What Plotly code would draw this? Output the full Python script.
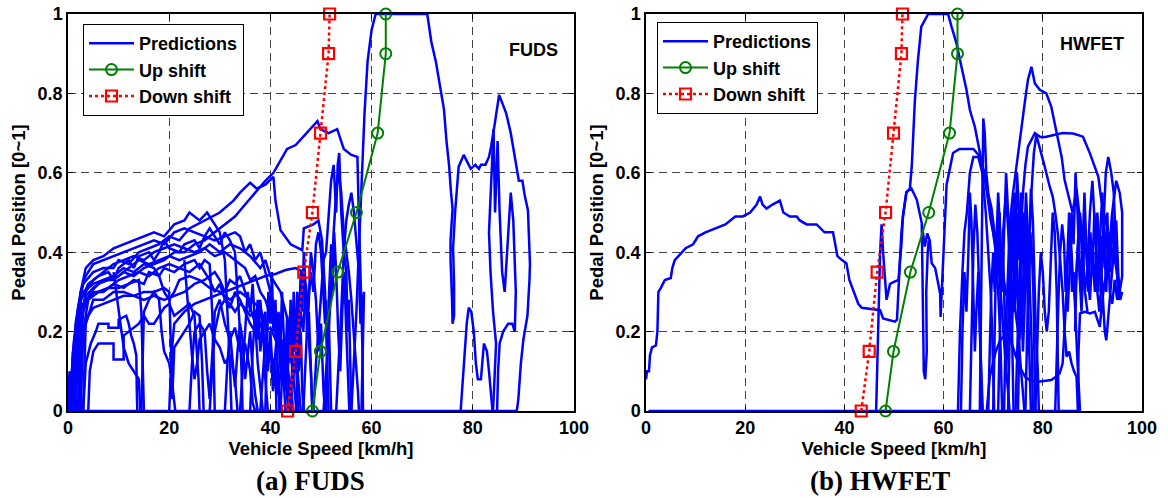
import plotly.graph_objects as go

# ---------------- shift schedule (same for both cycles) ----------------
up_speed = [48.3, 49.9, 53.3, 57.0, 61.2, 62.8, 62.8]
up_pedal = [0.0, 0.15, 0.35, 0.5, 0.7, 0.9, 1.0]
down_speed = [43.4, 45.0, 46.6, 48.3, 49.9, 51.5, 51.7]
down_pedal = [0.0, 0.15, 0.35, 0.5, 0.7, 0.9, 1.0]

# ---------------- FUDS predictions (speed km/h, pedal 0~1) ----------------
fuds_baseline = [[(0, 0), (88.7, 0)]]

fuds_low_speed = [
    [(0.3,0),(0.8,0.1),(1.5,0.22),(2.5,0.3),(3.5,0.36),(5,0.38),(7,0.39),(9,0.41),(11,0.42),(13,0.43),(15,0.44),(17,0.45),(19,0.44),(21,0.47),(23,0.48),(24,0.50),(26,0.48),(27.5,0.50),(29,0.47),(30,0.45),(31,0.38),(31.5,0.25),(32,0.12),(32.3,0)],
    [(0.5,0),(1,0.15),(2,0.26),(3,0.32),(5,0.35),(7,0.36),(9,0.36),(10,0.38),(12,0.37),(14,0.40),(16,0.41),(18,0.42),(20,0.44),(22,0.43),(24,0.46),(27,0.48),(30,0.50),(32.7,0.53),(34,0.55),(36,0.575),(37.3,0.56),(39,0.57),(40.6,0.59),(41,0.53),(42,0.455),(44,0.42),(46.3,0.405),(46.6,0.46),(48.5,0.47),(49.5,0.48),(50.2,0.43),(50.8,0.3),(51.2,0.15),(51.5,0)],
    [(1,0),(1.5,0.12),(2.5,0.24),(3.5,0.29),(5,0.31),(7,0.33),(9,0.33),(11,0.35),(13,0.34),(15,0.36),(17,0.37),(19,0.38),(21,0.40),(23,0.40),(25,0.42),(27,0.43),(29,0.45),(31,0.47),(33,0.49),(35,0.52),(37,0.55),(39,0.58),(40.6,0.60),(42,0.63),(43.3,0.66),(45,0.67),(46.5,0.69),(48,0.71),(49.3,0.73),(49.9,0.71),(51.5,0.70),(53.2,0.71),(53.9,0.685),(54.5,0.66),(56,0.645),(57.2,0.64),(57.4,0.53),(57.6,0.41),(57.9,0.3),(58.2,0.15),(58.3,0)],
    [(1.5,0),(2,0.15),(2.8,0.25),(3.5,0.28),(5,0.3),(7,0.3),(9,0.32),(11,0.31),(13,0.33),(15,0.32),(16,0.35),(18,0.34),(19,0.36),(21,0.35),(23,0.37),(25,0.38),(26,0.36),(27,0.38),(28,0.37),(28.5,0.25),(28.8,0.12),(29,0)],
    [(0.2,0),(0.6,0.08),(1.2,0.18),(2,0.23),(3,0.27),(4.5,0.29),(6,0.30),(8,0.31),(10,0.31),(12,0.32),(14,0.33),(14.5,0.25),(14.8,0.1),(15,0)],
    [(2,0),(2.5,0.1),(3,0.2),(4,0.24),(5,0.26),(7,0.27),(9,0.28),(11,0.29),(13,0.29),(15,0.30),(17,0.30),(19,0.31),(20,0.30),(20.3,0.2),(20.5,0.1),(20.6,0.03),(20.8,0.08),(21,0.16),(22,0.18),(23,0.2),(24,0.22),(25,0.25),(26,0.24),(26.5,0.12),(26.8,0)],
    [(3,0),(3.5,0.12),(4.5,0.17),(5.5,0.20),(6,0.22),(8,0.22),(8,0.21),(10,0.21),(10,0.23),(11.5,0.24),(12,0.22),(12.5,0.19),(13,0.17),(13.5,0.14),(13.6,0.05),(13.7,0)],
    [(4,0),(4.3,0.1),(5,0.15),(6,0.17),(8,0.17),(9,0.17),(9,0.13),(11,0.13),(11,0.19),(12,0.2),(14,0.22),(15,0.24),(16,0.22),(17,0.22),(18,0.24),(19,0.26),(20,0.27),(21,0.24),(22,0.25),(24,0.27),(25,0.24),(25.5,0.15),(25.8,0.08),(26,0)],
    [(1,0),(1.8,0.2),(2.5,0.3),(3.5,0.34),(5,0.37),(7,0.38),(9,0.39),(11,0.40),(13,0.41),(15,0.42),(17,0.43),(19,0.42),(21,0.45),(23,0.46),(25,0.45),(27,0.44),(29,0.43),(31,0.44),(33,0.45),(34,0.44),(35,0.40),(36,0.42),(37,0.38),(38,0.40),(39,0.35),(40,0.30),(41,0.25),(42,0.2),(42.5,0.1),(43,0)],
    [(2,0),(2.5,0.2),(3.5,0.3),(5,0.33),(7,0.35),(9,0.37),(11,0.38),(13,0.39),(15,0.38),(17,0.40),(19,0.41),(21,0.42),(23,0.41),(25,0.40),(27,0.41),(29,0.39),(31,0.40),(33,0.38),(35,0.36),(36,0.33),(37,0.34),(38,0.30),(39,0.28),(40,0.24),(41,0.2),(41.5,0.1),(41.8,0)],
    [(2.5,0),(3,0.2),(4,0.28),(6,0.3),(8,0.31),(10,0.33),(12,0.34),(14,0.35),(16,0.34),(18,0.36),(20,0.37),(22,0.36),(24,0.35),(26,0.37),(28,0.33),(29,0.30),(30,0.32),(31,0.28),(32,0.26),(33,0.3),(34,0.28),(35,0.25),(36,0.22),(37,0.2),(38,0.22),(39,0.18),(40,0.15),(41,0.1),(41.5,0.04),(42,0.1),(43,0.12),(44,0.07),(44.5,0)],
    [(3,0),(3.5,0.22),(5,0.28),(7,0.28),(9,0.30),(11,0.30),(13,0.29),(15,0.28),(17,0.29),(19,0.28),(21,0.29),(23,0.30),(25,0.32),(27,0.33),(29,0.35),(30,0.33),(31,0.3),(32,0.33),(33,0.32),(34,0.34),(35,0.3),(36,0.26),(37,0.22),(37.5,0.12),(38,0.05),(38.5,0)],
    [(2,0),(2.4,0.15),(3,0.25),(4.5,0.3),(6,0.32),(8,0.33),(10,0.34),(12,0.36),(14,0.38),(16,0.37),(18,0.38),(20,0.39),(22,0.38),(24,0.39),(26,0.4),(28,0.42),(30,0.4),(32,0.42),(34,0.41),(36,0.39),(38,0.36),(39,0.38),(40,0.34),(42,0.3),(43,0.25),(44,0.2),(45,0.15),(45.5,0.08),(46,0)],
    [(20,0),(20.5,0.15),(21,0.22),(23,0.25),(25,0.27),(27,0.28),(29,0.29),(31,0.30),(33,0.31),(35,0.32),(37,0.33),(39,0.34),(41,0.345),(43,0.355),(45,0.36),(46.5,0.35),(47,0.3),(47.5,0.2),(48,0.1),(48.3,0)],
    [(28,0),(28.5,0.1),(29,0.2),(30,0.26),(31,0.28),(32,0.27),(33,0.25),(34,0.27),(35,0.26),(36,0.24),(37,0.25),(38,0.22),(39,0.2),(40,0.21),(41,0.18),(42,0.16),(43,0.13),(44,0.14),(44.5,0.09),(45,0.02),(45.5,0)],
    [(24,0),(24.5,0.12),(25,0.2),(26,0.22),(27,0.2),(27.5,0.1),(28,0.03),(28.5,0.15),(29,0.25),(30,0.28),(31,0.22),(32,0.18),(33,0.21),(34,0.15),(35,0.17),(36,0.1),(36.5,0.02),(37,0)],
    [(0,0),(0.3,0.1),(0.6,0.05),(1,0.15),(1.3,0.08),(1.5,0)],
    [(1.2,0),(1.8,0.18),(2.6,0.28),(4,0.32),(6,0.34),(8,0.35),(9,0.33),(10,0.36),(12,0.38),(13,0.36),(14,0.39),(16,0.4),(17,0.38),(18,0.4),(19,0.43),(20,0.41),(22,0.4),(23,0.42),(25,0.43),(26,0.41),(27,0.44),(28,0.46),(29,0.44),(30,0.42),(31,0.45),(32,0.43),(33,0.4),(33.5,0.3),(34,0.2),(34.3,0.1),(34.5,0)],
    [(0.8,0),(1.5,0.2),(2.2,0.27),(3,0.3),(5,0.32),(7,0.33),(9,0.34),(11,0.36),(13,0.35),(15,0.37),(17,0.36),(18,0.34),(19,0.3),(20,0.28),(21,0.3),(22,0.33),(24,0.34),(26,0.33),(28,0.31),(30,0.3),(32,0.28),(34,0.3),(36,0.28),(38,0.26),(39,0.22),(40,0.24),(41,0.2),(42,0.16),(43,0.1),(43.5,0)],
    [(14.5,0),(14.7,0.12),(15,0.25),(16,0.28),(17,0.3),(18,0.28),(18.5,0.2),(19,0.15),(20,0.12),(20.5,0.08),(21,0.02),(21.2,0)],
    [(9,0.35),(9.5,0.3),(10,0.25),(10.5,0.2),(11,0.16),(12,0.12),(13,0.1),(14,0.08),(14.3,0)],
    [(23,0.38),(23.5,0.3),(24,0.2),(24.5,0.14),(25,0.08),(25.5,0.12),(26,0.18),(27,0.2),(28,0.22),(29,0.18),(30,0.16),(31,0.12),(32,0.14),(33,0.08),(33.5,0)],
]

fuds_mid_speed = [
    [(38,0),(38.5,0.1),(39,0.18),(39.5,0.12),(40,0.2),(40.5,0.08),(41,0.15),(41.5,0.22),(42,0.1),(42.5,0.18),(43,0.05),(43.5,0.12),(44,0.2),(44.5,0.08),(45,0.14),(45.5,0.0)],
    [(36,0),(36.5,0.15),(37,0.25),(37.5,0.18),(38,0.28),(38.5,0.2),(39,0.25),(39.5,0.1),(40,0.18),(40.5,0.05),(41,0.12),(41.2,0)],
    [(31,0),(31.5,0.12),(32,0.2),(32.5,0.12),(33,0.06),(33.5,0.15),(34,0.22),(34.5,0.18),(35,0.08),(35.5,0.14),(36,0.2),(36.5,0.1),(37,0.04),(37.5,0)],
    [(42,0),(42.3,0.08),(42.6,0.18),(43,0.1),(43.3,0.24),(43.6,0.12),(44,0.28),(44.3,0.15),(44.6,0.3),(45,0.2),(45.3,0.26),(45.6,0.1),(46,0.2),(46.3,0.05),(46.6,0)],
    [(46.5,0),(47,0.15),(47.5,0.28),(48,0.35),(48.5,0.3),(49,0.42),(49.5,0.45),(50,0.4),(50.5,0.3),(50.8,0.22),(51,0.28),(51.3,0.15),(51.5,0.25),(51.8,0.08),(52,0)],
    [(48.5,0),(49,0.12),(49.5,0.2),(50,0.3),(50.5,0.38),(51,0.4),(51.5,0.5),(52,0.58),(52.5,0.62),(53,0.5),(53.3,0.62),(53.6,0.65),(54,0.5),(54.5,0.4),(55,0.35),(55.3,0.2),(55.5,0.28),(55.8,0.1),(56,0)],
    [(50.5,0),(51,0.1),(51.5,0.2),(52,0.3),(52.5,0.45),(53,0.55),(53.5,0.6),(54,0.55),(54.5,0.45),(55,0.4),(55.5,0.35),(56,0.28),(56.5,0.2),(57,0.12),(57.3,0.05),(57.5,0)],
    [(53,0),(53.5,0.12),(54,0.25),(54.5,0.4),(55,0.48),(55.5,0.52),(56,0.55),(56.5,0.5),(57,0.42),(57.5,0.35),(57.8,0.22),(58.2,0.28),(58.5,0.3),(58.3,0.15),(58.1,0.05),(58,0)],
    [(39,0),(39.3,0.15),(39.6,0.3),(40,0.22),(40.3,0.35),(40.6,0.2),(41,0.28),(41.3,0.12),(41.6,0.25),(42,0.18),(42.3,0.3),(42.6,0.2),(43,0.12),(43.3,0.2),(43.6,0.06),(44,0)],
    [(44,0),(44.3,0.1),(44.6,0.22),(45,0.15),(45.3,0.3),(45.6,0.2),(46,0.35),(46.3,0.25),(46.6,0.4),(47,0.3),(47.3,0.18),(47.6,0.25),(48,0.1),(48.3,0)],
    [(45,0),(45.5,0.12),(46,0.25),(46.5,0.2),(47,0.32),(47.5,0.25),(48,0.4),(48.5,0.35),(49,0.28),(49.5,0.15),(50,0.22),(50.5,0.05),(50.8,0)],
    [(51,0),(51.3,0.15),(51.6,0.3),(52,0.42),(52.3,0.3),(52.6,0.45),(53,0.35),(53.4,0.2),(53.8,0.1),(54.2,0.25),(54.6,0.35),(55,0.2),(55.4,0.05),(55.6,0)],
    [(34,0),(34.5,0.1),(35,0.18),(35.5,0.3),(36,0.25),(36.5,0.32),(37,0.2),(37.5,0.28),(38,0.15),(38.5,0.22),(39,0.08),(39.5,0)],
]

fuds_high_speed = [
    [(56,0),(56.5,0.12),(57,0.25),(57.4,0.38),(57.8,0.5),(58.2,0.62),(58.6,0.75),(59.2,0.88),(60,0.96),(60.8,1.0),(71,1.0),(71.8,0.93),(72.7,0.88),(73.5,0.82),(74.3,0.76),(74.8,0.68),(75.3,0.62),(75.7,0.55),(76,0.51),(75.6,0.43),(75.6,0.38),(75.9,0.28),(76,0.22),(76.3,0.24),(76.3,0.32),(76.1,0.41),(76.5,0.5),(77.2,0.615),(78.2,0.645),(78.8,0.63),(79.6,0.61),(80.5,0.62),(81.2,0.61),(81.6,0.62),(82.5,0.62),(83.2,0.64),(83.6,0.665),(84.3,0.72),(85.2,0.796),(85.7,0.78),(86.6,0.75),(87.5,0.70),(88.2,0.65),(89.1,0.58),(89.8,0.58),(90.3,0.54),(90.9,0.506),(91.1,0.43),(91.3,0.37),(91.2,0.33),(90.8,0.24),(90,0.18),(89.5,0.12),(89,0.03),(88.7,0)],
    [(77.6,0),(78.2,0.12),(78.8,0.22),(79.2,0.26),(79.7,0.25),(80.2,0.2),(80.6,0.12),(81,0.08),(81.6,0.08),(82.2,0.17),(82.8,0.15),(83.2,0.1),(83.6,0.04),(83.9,0)],
    [(84,0),(84.3,0.1),(84.6,0.17),(84,0.25),(83.5,0.35),(83.2,0.45),(83.6,0.55),(84.1,0.71),(84.4,0.5),(84.9,0.68),(85.3,0.5),(85.8,0.35),(86.3,0.3),(87,0.45),(87.5,0.55),(88,0.48),(88.5,0.3),(88.3,0.2),(87.8,0.22),(87,0.22),(86,0.2),(85.3,0.17),(85,0.1),(84.8,0)],
]

# ---------------- HWFET predictions ----------------
hwfet_baseline = [[(0.5, 0), (87.1, 0)]]

hwfet_low_speed = [
    [(0,0.08),(0.2,0.1),(0.6,0.1),(0.8,0.14),(1.2,0.16),(2,0.165),(2.3,0.2),(2.5,0.3),(3,0.31),(3.8,0.33),(5,0.335),(5.3,0.36),(5.8,0.38),(6.5,0.39),(8,0.41),(9.5,0.42),(10.5,0.44),(12,0.45),(14,0.46),(16,0.47),(18,0.49),(19.5,0.49),(21,0.5),(22.3,0.52),(23,0.54),(23.5,0.52),(24.3,0.51),(25.5,0.52),(27,0.53),(27.7,0.5),(29,0.49),(30.4,0.49),(31,0.48),(32.4,0.47),(34.4,0.47),(35.3,0.46),(36,0.45),(37.7,0.45),(38.2,0.42),(38.6,0.39),(39.5,0.38),(40.4,0.372),(41,0.33),(41.8,0.305),(42.8,0.27),(43.5,0.26),(44.1,0.259),(45.5,0.255),(47.2,0.254),(47.8,0.233),(49,0.228),(50.2,0.225),(50.6,0.23),(50.9,0.32),(51.2,0.38),(51.5,0.45),(51.8,0.49),(52.5,0.552),(53.5,0.561),(54.6,0.532),(55.6,0.473),(56.2,0.414),(56.7,0.447),(57.2,0.43),(57.6,0.372),(58.3,0.36),(59.3,0.296),(59.4,0.237),(59.6,0.3),(60.2,0.45),(60.6,0.57),(61.9,0.65),(63.2,0.66),(66,0.66),(67.4,0.64),(68.2,0.6),(68.8,0.54),(69.5,0.48),(70.3,0.43),(71,0.4),(71.8,0.36),(72.5,0.3),(73,0.28),(73.5,0.32),(74,0.3),(74.5,0.25),(75,0.2),(75.5,0.12),(76,0.05),(76.3,0)],
    [(46.4,0),(46.8,0.2),(47.2,0.4),(47.5,0.47),(47.8,0.4),(48.5,0.28),(49.2,0.32),(50,0.325),(50.9,0.33),(51.5,0.42),(51.8,0.49),(52.5,0.55),(53.2,0.56),(53.6,0.62),(54,0.72),(54.2,0.78),(54.8,0.88),(55.5,0.968),(56.9,1.0),(60.9,1.0),(61.6,0.968),(62.6,0.926),(63.6,0.867),(64.6,0.81),(65.3,0.758),(66.3,0.716),(67.6,0.632),(68.6,0.565),(69.6,0.515),(70.3,0.448),(71,0.38),(71.5,0.3),(72,0.2),(72.5,0.12),(73,0.05),(73.3,0)],
    [(55.6,0.47),(55.8,0.35),(55.9,0.2),(56,0.1),(56.3,0.08),(56.6,0.15),(56.5,0.3),(56.8,0.4),(57,0.43)],
    [(62.9,0),(63.3,0.2),(63.8,0.35),(64.2,0.45),(64.7,0.5),(65.3,0.6),(66,0.64),(67,0.64),(67.8,0.6),(68.5,0.5),(69,0.4),(69.5,0.3),(69.8,0.2),(70,0.1),(70.2,0)],
    [(67.3,0),(67.5,0.2),(67.7,0.4),(67.9,0.6),(68,0.737),(68.3,0.7),(68.6,0.6),(69,0.55),(69.5,0.5),(70,0.45),(70.5,0.4),(71,0.3),(71.4,0.2),(71.6,0.1),(71.8,0)],
    [(63.5,0),(63.8,0.2),(64.2,0.35),(64.6,0.25),(65,0.4),(65.3,0.55),(65.6,0.48),(66,0.3),(66.3,0.15),(66.6,0.25),(67,0.35),(67.3,0.2),(67.6,0.08),(67.9,0)],
    [(65.3,0),(65.6,0.2),(66,0.4),(66.4,0.52),(66.8,0.45),(67.2,0.3),(67.5,0.12),(67.7,0)],
]

hwfet_high_speed = [
    [(69,0),(69.3,0.15),(69.6,0.3),(70,0.4),(70.3,0.3),(70.6,0.45),(71,0.35),(71.3,0.5),(71.6,0.3),(72,0.4),(72.3,0.2),(72.6,0.1),(73,0.2),(73.3,0.4),(73.6,0.5),(74,0.35),(74.3,0.45),(74.6,0.3),(75,0.5),(75.3,0.38),(75.6,0.55),(76,0.4),(76.3,0.3),(76.6,0.45),(77,0.25),(77.3,0.1),(77.6,0)],
    [(71,0),(71.3,0.2),(71.6,0.35),(72,0.45),(72.4,0.52),(72.8,0.5),(73.2,0.42),(73.5,0.3),(73.8,0.42),(74.2,0.55),(74.5,0.42),(74.8,0.6),(75.2,0.5),(75.5,0.35),(75.8,0.2),(76.1,0.35),(76.4,0.5),(76.8,0.4),(77.2,0.3),(77.5,0.45),(77.8,0.4),(78.1,0.3),(78.3,0.15),(78.5,0)],
    [(73,0),(73.2,0.15),(73.5,0.3),(73.8,0.2),(74.1,0.35),(74.4,0.25),(74.7,0.4),(75,0.28),(75.3,0.18),(75.6,0.3),(76,0.15),(76.3,0.25),(76.6,0.38),(77,0.3),(77.3,0.45),(77.6,0.56),(78,0.48),(78.3,0.35),(78.6,0.2),(79,0.1),(79.2,0)],
    [(72.2,0),(72.5,0.2),(73,0.35),(73.3,0.464),(74,0.55),(74.8,0.63),(75.7,0.716),(76.4,0.78),(77,0.834),(77.7,0.867),(78.4,0.825),(79.4,0.809),(80.7,0.80),(81.7,0.767),(82.8,0.70),(83.8,0.64),(84.4,0.582),(85.1,0.548),(86,0.5),(86.8,0.56),(87.5,0.48),(88,0.38),(88.5,0.3),(89,0.36),(89.5,0.5),(90,0.58),(90.5,0.45),(91,0.35),(91.5,0.42),(92,0.3),(92.5,0.2),(92.8,0.178),(93.3,0.25),(93.8,0.32),(94.3,0.4),(94.8,0.36),(95.5,0.3),(96,0.34),(96,0.5),(95.5,0.55),(94.8,0.58),(94,0.5),(93.5,0.42),(92.8,0.35),(92,0.28),(91.5,0.212),(90.5,0.25),(89.5,0.246),(88.5,0.25),(87.5,0.246),(87.2,0.15),(87.1,0.05),(87.1,0)],
    [(74.5,0),(74.8,0.15),(75.2,0.3),(75.6,0.45),(76,0.55),(76.5,0.62),(77,0.666),(78.4,0.70),(79.5,0.69),(80.5,0.69),(82.1,0.695),(84,0.70),(86.1,0.699),(88.1,0.691),(89.5,0.649),(90.5,0.615),(91.2,0.59),(91.8,0.531),(92.8,0.47),(93.8,0.414),(94.9,0.364),(95.5,0.296),(95.2,0.28),(95,0.35),(94.6,0.45),(94.3,0.55),(93.8,0.6),(93.2,0.64),(92.7,0.6),(92.3,0.5),(92,0.4),(91.7,0.3),(91.4,0.25),(91,0.3),(90.6,0.4)],
    [(76.5,0),(76.8,0.2),(77.2,0.4),(77.7,0.55),(78.2,0.65),(78.7,0.695),(79.5,0.66),(80.4,0.615),(81.4,0.565),(82,0.54),(82.5,0.5),(83,0.45),(83.5,0.38),(84,0.3),(84.4,0.2),(84.8,0.137),(85.3,0.15),(85.8,0.12),(86.3,0.1),(86.8,0.086),(87.1,0)],
    [(68.7,0),(69,0.05),(69.3,0.086),(70.5,0.15),(71.5,0.18),(72.7,0.195),(73.5,0.18),(74.5,0.14),(75.4,0.11),(76.5,0.085),(77.4,0.078),(79.1,0.074),(80.5,0.076),(81.7,0.078),(82.5,0.085),(83.4,0.095),(84,0.12),(84.4,0.2),(84.8,0.3),(85,0.4),(85.3,0.5),(85.6,0.42),(85.9,0.3),(86.2,0.35),(86.5,0.25),(86.9,0.15),(87.3,0.05),(87.5,0)],
    [(82.5,0),(82.8,0.15),(83.2,0.3),(83.5,0.4),(83.9,0.47),(84.3,0.42),(84.6,0.3),(85,0.38),(85.5,0.47),(86,0.35),(86.5,0.28),(87,0.4),(87.5,0.5),(88,0.42),(88.5,0.3),(89,0.25)],
    [(86.5,0.2),(86.8,0.35),(87.2,0.45),(87.6,0.3),(88,0.4),(88.4,0.55),(88.8,0.4),(89.2,0.3),(89.6,0.45),(90,0.35),(90.4,0.5),(90.8,0.4),(91.2,0.3),(91.6,0.45),(92,0.55),(92.4,0.42),(92.8,0.3),(93.2,0.45),(93.6,0.35),(94,0.5),(94.4,0.4),(94.8,0.48),(95.2,0.35),(95.6,0.28),(96,0.3)],
    [(85,0.25),(85.4,0.35),(85.8,0.5),(86.2,0.42),(86.6,0.6),(87,0.5),(87.4,0.35),(87.8,0.25),(88.2,0.38),(88.6,0.46),(89,0.35),(89.5,0.28),(90,0.4),(90.5,0.3),(91,0.5),(91.5,0.38),(92,0.44),(92.5,0.36),(93,0.5),(93.5,0.3),(94,0.27),(94.5,0.33),(95,0.28)],
    [(70,0),(70.3,0.2),(70.6,0.4),(71,0.55),(71.4,0.45),(71.8,0.3),(72.2,0.48),(72.6,0.6),(73,0.5),(73.4,0.35),(73.8,0.2),(74.1,0)],
    [(75,0),(75.3,0.2),(75.6,0.4),(76,0.5),(76.3,0.42),(76.6,0.55),(77,0.45),(77.4,0.3),(77.8,0.15),(78,0)],
    [(78.5,0),(78.8,0.15),(79.2,0.3),(79.6,0.4),(80,0.35),(80.4,0.25),(80.8,0.2),(81.2,0.25),(81.6,0.38),(82,0.5),(82.4,0.45),(82.8,0.3),(83,0.15),(83.2,0)],
]

cycle_names = ["FUDS", "HWFET"]
subtitles = ["(a) FUDS", "(b) HWFET"]


def flatten(*groups):
    xs, ys = [], []
    for group in groups:
        for seg in group:
            for sx, sy in seg:
                xs.append(sx)
                ys.append(sy)
            xs.append(None)
            ys.append(None)
    return xs, ys


BLUE = "#0000FF"
GREEN = "#008000"
RED = "#FF0000"
FONT = "Liberation Sans, Arial, sans-serif"

fig = go.Figure()

pred_sets = [
    flatten(fuds_baseline, fuds_low_speed, fuds_mid_speed, fuds_high_speed),
    flatten(hwfet_baseline, hwfet_low_speed, hwfet_high_speed),
]
legends = ["legend", "legend2"]
xaxes = ["x", "x2"]
yaxes = ["y", "y2"]

for i in range(2):
    px_, py_ = pred_sets[i]
    fig.add_trace(go.Scatter(x=px_, y=py_, mode="lines", name="Predictions",
                             line=dict(color=BLUE, width=2.5), connectgaps=False,
                             xaxis=xaxes[i], yaxis=yaxes[i], legend=legends[i]))
    fig.add_trace(go.Scatter(x=up_speed, y=up_pedal, mode="lines+markers", name="Up shift",
                             line=dict(color=GREEN, width=2),
                             marker=dict(symbol="circle-open", size=11, color=GREEN, line=dict(width=2)),
                             cliponaxis=False,
                             xaxis=xaxes[i], yaxis=yaxes[i], legend=legends[i]))
    fig.add_trace(go.Scatter(x=down_speed, y=down_pedal, mode="lines+markers", name="Down shift",
                             line=dict(color=RED, width=2.5, dash="dot"),
                             marker=dict(symbol="square-open", size=11, color=RED, line=dict(width=2.2)),
                             cliponaxis=False,
                             xaxis=xaxes[i], yaxis=yaxes[i], legend=legends[i]))

axis_common = dict(
    range=[0, 100], showline=True, linecolor="black", linewidth=1.5, mirror="ticks",
    ticks="inside", ticklen=5, tickcolor="black", showgrid=True, gridcolor="#444444",
    griddash="8px,5px", gridwidth=1, zeroline=False,
    tickfont=dict(family=FONT, size=18, color="black", weight="bold"),
    tickvals=[0, 20, 40, 60, 80, 100], automargin=False,
)
yaxis_common = dict(axis_common)
yaxis_common.update(range=[0, 1], tickvals=[0, 0.2, 0.4, 0.6, 0.8, 1.0],
                    ticktext=["0", "0.2", "0.4", "0.6", "0.8", "1"])

title_font = dict(family=FONT, size=18.5, color="black", weight="bold")
legend_font = dict(family=FONT, size=18, color="black", weight="bold")
ydom = [1 - 411 / 498, 1 - 14 / 498]

fig.update_layout(
    width=1168, height=498, margin=dict(l=0, r=0, t=0, b=0),
    paper_bgcolor="white", plot_bgcolor="white",
    xaxis=dict(axis_common, domain=[68 / 1168, 574 / 1168], anchor="y",
               title=dict(text="Vehicle Speed [km/h]", font=title_font, standoff=4)),
    yaxis=dict(yaxis_common, domain=ydom, anchor="x",
               title=dict(text="Pedal Position [0~1]", font=title_font, standoff=7)),
    xaxis2=dict(axis_common, domain=[646 / 1168, 1142 / 1168], anchor="y2",
                title=dict(text="Vehicle Speed [km/h]", font=title_font, standoff=4)),
    yaxis2=dict(yaxis_common, domain=ydom, anchor="x2",
                title=dict(text="Pedal Position [0~1]", font=title_font, standoff=7)),
    legend=dict(x=83 / 1168, y=1 - 24 / 498, xanchor="left", yanchor="top",
                bgcolor="white", bordercolor="black", borderwidth=1,
                font=legend_font, tracegroupgap=0, itemwidth=45),
    legend2=dict(x=657 / 1168, y=1 - 22 / 498, xanchor="left", yanchor="top",
                 bgcolor="white", bordercolor="black", borderwidth=1,
                 font=legend_font, tracegroupgap=0, itemwidth=45),
    showlegend=True,
)

fig.add_annotation(x=92, y=0.91, xref="x", yref="y", text=cycle_names[0], showarrow=False,
                   font=dict(family=FONT, size=18, color="black", weight="bold"))
fig.add_annotation(x=90, y=0.925, xref="x2", yref="y2", text=cycle_names[1], showarrow=False,
                   font=dict(family=FONT, size=18, color="black", weight="bold"))

serif = dict(family="Liberation Serif, Times New Roman, serif", size=27, color="black", weight="bold")
fig.add_annotation(x=310 / 1168, y=1 - 481 / 498, xref="paper", yref="paper", text=subtitles[0],
                   showarrow=False, font=serif, xanchor="center", yanchor="middle")
fig.add_annotation(x=880 / 1168, y=1 - 481 / 498, xref="paper", yref="paper", text=subtitles[1],
                   showarrow=False, font=serif, xanchor="center", yanchor="middle")

fig.write_html("out.html")
